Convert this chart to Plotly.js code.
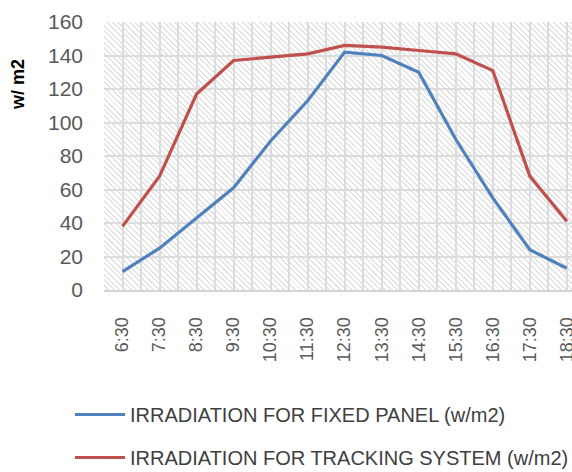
<!DOCTYPE html>
<html>
<head>
<meta charset="utf-8">
<script src="https://cdn.plot.ly/plotly-3.0.1.min.js"></script>
<style>
  html, body { margin: 0; padding: 0; background: #fff; }
  #wrap { position: relative; width: 572px; height: 472px; background: #fff; }
  #hatch { position: absolute; background: repeating-linear-gradient(45deg, #ffffff 0px, #ffffff 2.6px, #e3e3e3 2.6px, #e3e3e3 4px); }
  #chart { position: absolute; left: 0; top: 0; width: 572px; height: 472px; }
</style>
</head>
<body>
<div id="wrap">
  <div id="hatch"></div>
  <div id="chart"></div>
</div>
<script>
const categories = ["6:30","7:30","8:30","9:30","10:30","11:30","12:30","13:30","14:30","15:30","16:30","17:30","18:30"];
const fixedPanel = [11, 25, 43, 61, 89, 113, 142, 140, 130, 90, 55, 24, 13];
const trackingSystem = [38, 68, 117, 137, 139, 141, 146, 145, 143, 141, 131, 68, 41];
const seriesNames = ["IRRADIATION FOR FIXED PANEL (w/m2)", "IRRADIATION FOR TRACKING SYSTEM (w/m2)"];
const yTicks = [0, 20, 40, 60, 80, 100, 120, 140, 160];

const idx = categories.map((_, i) => i);
const font = "Liberation Sans, Arial, sans-serif";

const traces = [
  { x: idx, y: fixedPanel, name: seriesNames[0], type: "scatter", mode: "lines",
    line: { color: "#4F81BD", width: 3.2 }, legendgroup: "a" },
  { x: idx, y: trackingSystem, name: seriesNames[1], type: "scatter", mode: "lines",
    line: { color: "#C0504D", width: 3.2 }, legendgroup: "b" }
];

const layout = {
  width: 572, height: 472,
  margin: { l: 104, r: 0, t: 22, b: 182, pad: 0, autoexpand: false },
  paper_bgcolor: "rgba(0,0,0,0)",
  plot_bgcolor: "rgba(0,0,0,0)",
  font: { family: font, color: "#595959" },
  showlegend: true,
  legend: {
    x: (70 - 104) / 468, y: (290 - 395) / 268, xanchor: "left", yanchor: "top",
    orientation: "v", tracegroupgap: 14, itemwidth: 50,
    font: { family: font, size: 20, color: "#404040" },
    bgcolor: "rgba(0,0,0,0)"
  },
  xaxis: {
    range: [-0.5, 12.14],
    tickmode: "array", tickvals: idx, ticktext: categories,
    tickangle: -90, tickfont: { size: 18, color: "#595959" },
    ticks: "", ticklabelstandoff: 18, ticklabeloverflow: "allow",
    showgrid: true, gridcolor: "#dcdcdc", gridwidth: 2,
    minor: { tickmode: "linear", tick0: -0.5, dtick: 1, showgrid: true, gridcolor: "#dcdcdc", gridwidth: 2 },
    showline: true, linecolor: "#d4d4d4", linewidth: 2,
    zeroline: false, fixedrange: true
  },
  yaxis: {
    range: [0, 160],
    tickmode: "array", tickvals: yTicks,
    tickfont: { size: 21, color: "#595959" },
    ticks: "", ticklabelstandoff: 20,
    showgrid: true, gridcolor: "#dcdcdc", gridwidth: 2,
    zeroline: false, showline: false, fixedrange: true
  },
  annotations: [{
    text: "<b>w/ m2</b>", xref: "paper", yref: "paper",
    x: (18 - 104) / 468, y: (290 - 85) / 268, xanchor: "center", yanchor: "middle",
    textangle: -90, showarrow: false,
    font: { family: font, size: 18, color: "#000000" }
  }]
};

function finish(gd) {
  const s = gd._fullLayout._size;
  const h = document.getElementById("hatch");
  h.style.left = s.l + "px";
  h.style.top = s.t + "px";
  h.style.width = s.w + "px";
  h.style.height = s.h + "px";
  // lengthen legend line samples to match the reference's longer swatches
  gd.querySelectorAll(".legend .legendlines path").forEach(p => p.setAttribute("d", "M5,0h50"));
}

Plotly.newPlot("chart", traces, layout, { staticPlot: true, displayModeBar: false }).then(gd => {
  finish(gd);
  setTimeout(() => finish(gd), 50);
});
</script>
</body>
</html>
